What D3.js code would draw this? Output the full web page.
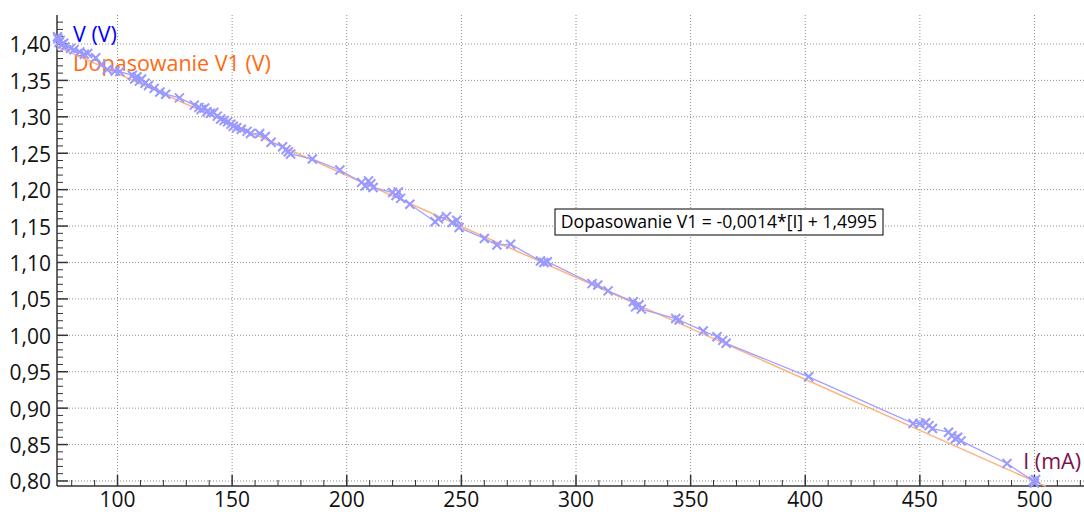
<!DOCTYPE html>
<html>
<head>
<meta charset="utf-8">
<script src="https://cdn.jsdelivr.net/npm/d3@7"></script>
<style>
  body { margin: 0; background: #fff; }
  text { font-family: "Open Sans", sans-serif; }
</style>
</head>
<body>
<div id="chart"></div>
<script>
// measured current I (mA)
var currentI = [73.8, 74.0, 74.5, 75.0, 75.5, 76.5, 77.0, 79.5, 81.0, 83.5, 85.5, 87.0, 90.5, 93.0, 95.5, 99.0,
    101.0, 106.5, 107.5, 108.5, 109.5, 110.5, 112.0, 113.5, 116.0, 118.5, 121.0, 127.0, 133.5, 135.5,
    136.5, 138.0, 139.0, 140.5, 142.0, 143.5, 145.0, 146.5, 148.0, 149.5, 150.5, 152.0, 154.0, 156.5,
    158.0, 162.0, 164.5, 167.0, 172.0, 173.5, 174.5, 175.5, 185.0, 197.0, 206.5, 208.0, 209.5, 210.5,
    211.5, 220.0, 221.5, 222.5, 223.5, 227.5, 238.5, 240.0, 243.5, 246.0, 248.0, 249.0, 260.0, 265.5,
    271.5, 284.5, 286.0, 287.5, 307.0, 309.5, 314.0, 325.0, 326.0, 327.5, 328.5, 343.5, 345.0, 355.5,
    361.5, 364.0, 365.5, 401.5, 447.0, 450.0, 452.5, 454.0, 455.5, 462.5, 464.0, 465.5, 466.5, 468.0,
    488.0, 499.5, 500.0, 500.5];
// measured voltage V (V)
var voltageV = [1.410, 1.407, 1.402, 1.405, 1.399, 1.401, 1.396, 1.394, 1.392, 1.389, 1.386, 1.387, 1.381, 1.372, 1.365, 1.363,
    1.362, 1.357, 1.352, 1.355, 1.349, 1.352, 1.346, 1.343, 1.339, 1.334, 1.331, 1.326, 1.316, 1.313,
    1.310, 1.312, 1.307, 1.305, 1.306, 1.301, 1.297, 1.295, 1.293, 1.290, 1.287, 1.285, 1.283, 1.280,
    1.277, 1.277, 1.273, 1.265, 1.259, 1.255, 1.252, 1.249, 1.242, 1.227, 1.210, 1.205, 1.212, 1.208,
    1.203, 1.196, 1.192, 1.197, 1.188, 1.180, 1.156, 1.160, 1.163, 1.155, 1.158, 1.148, 1.133, 1.124,
    1.125, 1.102, 1.100, 1.101, 1.071, 1.069, 1.061, 1.046, 1.039, 1.042, 1.036, 1.023, 1.021, 1.006,
    0.998, 0.993, 0.989, 0.943, 0.879, 0.879, 0.880, 0.876, 0.872, 0.867, 0.862, 0.858, 0.860, 0.855,
    0.824, 0.800, 0.797, 0.802];

// linear fit V1 = a*I + b
var fitSlope = -0.0014, fitIntercept = 1.4995;
var fitRange = [73.6, 505];
var fitLabel = "Dopasowanie V1 = -0,0014*[I] + 1,4995";

var xMajor = [100, 150, 200, 250, 300, 350, 400, 450, 500];
var yMajor = [0.80, 0.85, 0.90, 0.95, 1.00, 1.05, 1.10, 1.15, 1.20, 1.25, 1.30, 1.35, 1.40];

var W = 1084, H = 512;
var mLeft = 57, mBottom = 486, mTop = 15;

var x = d3.scaleLinear().domain([73.6, 521.6]).range([mLeft, W]);
var y = d3.scaleLinear().domain([0.7931, 1.4398]).range([mBottom, mTop]);

var svg = d3.select("#chart").append("svg")
    .attr("width", W).attr("height", H);

var fmtY = function (d) { return d3.format(".2f")(d).replace(".", ","); };

// grid
svg.append("g").selectAll("line").data(xMajor).enter().append("line")
    .attr("x1", function (d) { return x(d); }).attr("x2", function (d) { return x(d); })
    .attr("y1", mTop).attr("y2", mBottom)
    .attr("stroke", "#8c8c8c").attr("stroke-dasharray", "1,2");
svg.append("g").selectAll("line").data(yMajor).enter().append("line")
    .attr("x1", mLeft).attr("x2", W)
    .attr("y1", function (d) { return y(d); }).attr("y2", function (d) { return y(d); })
    .attr("stroke", "#8c8c8c").attr("stroke-dasharray", "1,2");

// axes (ticks pointing inside)
var xMinor = d3.range(80, 521, 10).filter(function (d) { return d % 50 !== 0; });
var yMinor = d3.range(80, 144, 1).map(function (d) { return d / 100; })
    .filter(function (d) { return Math.round(d * 100) % 5 !== 0; });

var gx = svg.append("g").attr("transform", "translate(0," + mBottom + ")");
gx.append("line").attr("x1", mLeft).attr("x2", W).attr("stroke", "#333").attr("stroke-width", 1.5);
gx.selectAll(".mn").data(xMinor).enter().append("line")
    .attr("x1", function (d) { return x(d); }).attr("x2", function (d) { return x(d); })
    .attr("y1", 0).attr("y2", -6).attr("stroke", "#333");
gx.selectAll(".mj").data(xMajor).enter().append("line")
    .attr("x1", function (d) { return x(d); }).attr("x2", function (d) { return x(d); })
    .attr("y1", 0).attr("y2", -11).attr("stroke", "#333").attr("stroke-width", 1.5);
gx.selectAll("text").data(xMajor).enter().append("text")
    .attr("x", function (d) { return x(d); }).attr("y", 21)
    .attr("text-anchor", "middle").attr("font-size", 21).attr("fill", "#111")
    .text(function (d) { return d; });

var gy = svg.append("g").attr("transform", "translate(" + mLeft + ",0)");
gy.append("line").attr("y1", mTop).attr("y2", mBottom).attr("stroke", "#333").attr("stroke-width", 1.5);
gy.selectAll(".mn").data(yMinor).enter().append("line")
    .attr("y1", function (d) { return y(d); }).attr("y2", function (d) { return y(d); })
    .attr("x1", 0).attr("x2", 6).attr("stroke", "#333");
gy.selectAll(".mj").data(yMajor).enter().append("line")
    .attr("y1", function (d) { return y(d); }).attr("y2", function (d) { return y(d); })
    .attr("x1", 0).attr("x2", 11).attr("stroke", "#333").attr("stroke-width", 1.5);
gy.selectAll("text").data(yMajor).enter().append("text")
    .attr("x", -6).attr("y", function (d) { return y(d) + 8.5; })
    .attr("text-anchor", "end").attr("font-size", 21).attr("fill", "#111")
    .text(fmtY);

// series labels
svg.append("text").attr("x", 73).attr("y", 42).attr("font-size", 21.5)
    .attr("fill", "#0000ff").text("V (V)");
svg.append("text").attr("x", 73).attr("y", 71).attr("font-size", 21.5)
    .attr("fill", "#ff6a10").text("Dopasowanie V1 (V)");
svg.append("text").attr("x", 1081).attr("y", 469).attr("font-size", 21.5)
    .attr("text-anchor", "end").attr("fill", "#80104a").text("I (mA)");

var plot = svg.append("g");

// fit line
plot.append("path")
    .datum(fitRange)
    .attr("fill", "none").attr("stroke", "#ffb380").attr("stroke-width", 1.5)
    .attr("d", d3.line()
        .x(function (d) { return x(d); })
        .y(function (d) { return y(fitSlope * d + fitIntercept); }));

// measured data
var pts = currentI.map(function (d, i) { return [d, voltageV[i]]; });
plot.append("path")
    .datum(pts)
    .attr("fill", "none").attr("stroke", "#a0a0ff").attr("stroke-width", 1.3)
    .attr("d", d3.line()
        .x(function (d) { return x(d[0]); })
        .y(function (d) { return y(d[1]); }));

plot.selectAll(".mk").data(pts).enter().append("path")
    .attr("transform", function (d) { return "translate(" + x(d[0]) + "," + y(d[1]) + ")"; })
    .attr("d", "M-4.5,-4.5L4.5,4.5M-4.5,4.5L4.5,-4.5")
    .attr("stroke", "#9999ff").attr("stroke-width", 2).attr("fill", "none");

// fit equation box
var box = svg.append("g").attr("transform", "translate(555,209)");
box.append("rect").attr("width", 328).attr("height", 26)
    .attr("fill", "#fff").attr("stroke", "#000").attr("stroke-width", 1);
box.append("text").attr("x", 164).attr("y", 19).attr("text-anchor", "middle")
    .attr("font-size", 17.6).attr("fill", "#000").text(fitLabel);
</script>
</body>
</html>
